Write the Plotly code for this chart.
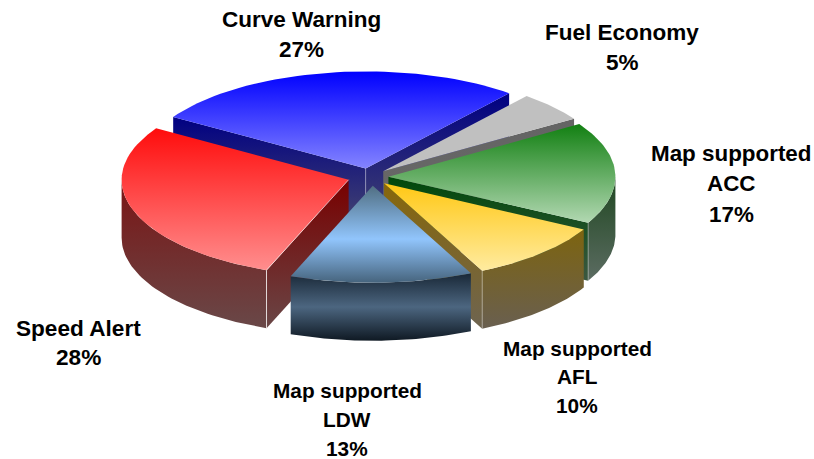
import math
import plotly.graph_objects as go

# Data
categories = ["Curve Warning", "Fuel Economy", "Map supported ACC", "Map supported AFL", "Map supported LDW", "Speed Alert"]
values = [27, 5, 17, 10, 13, 28]
label_lines = [["Curve Warning"], ["Fuel Economy"], ["Map supported", "ACC"], ["Map supported", "AFL"], ["Map supported", "LDW"], ["Speed Alert"]]

# Style
label_pos = [(301, 19, 30), (622, 32, 30), (731, 153, 30.5), (577, 348, 28.5), (347, 390, 29), (78, 328, 29)]
label_size = [22.5, 22.5, 22.4, 20.8, 20.8, 22.6]
nudge_x = [1, 0, 0, 2, 4, 0]
top_colors = [
    [(0, "rgb(0,0,255)"), (1, "rgb(132,132,255)")],
    [(0, "rgb(192,192,192)"), (1, "rgb(192,192,192)")],
    [(0, "rgb(18,128,18)"), (1, "rgb(178,216,178)")],
    [(0, "rgb(255,200,20)"), (1, "rgb(255,235,160)")],
    [(0, "rgb(80,110,130)"), (0.55, "rgb(145,197,252)"), (1, "rgb(70,100,125)")],
    [(0, "rgb(255,12,12)"), (1, "rgb(255,142,142)")],
]
cut_colors = [
    [(0, "rgb(0,0,130)"), (1, "rgb(70,70,112)")],
    [(0, "rgb(100,100,100)"), (1, "rgb(105,105,105)")],
    [(0, "rgb(0,72,10)"), (1, "rgb(60,88,65)")],
    [(0, "rgb(135,103,10)"), (1, "rgb(110,100,80)")],
    [(0, "rgb(25,40,55)"), (1, "rgb(15,25,35)")],
    [(0, "rgb(120,0,0)"), (1, "rgb(105,70,70)")],
]
rim_colors = [
    cut_colors[0], cut_colors[1],
    [(0, "rgb(30,70,32)"), (1, "rgb(92,108,98)")],
    [(0, "rgb(125,100,15)"), (1, "rgb(105,95,80)")],
    [(0, "rgb(25,40,55)"), (0.5, "rgb(76,102,128)"), (1, "rgb(15,25,35)")],
    [(0, "rgb(122,20,20)"), (1, "rgb(105,72,72)")],
]
draw_order = [0, 1, 2, 5, 3, 4]
CX, CY, RX, RY, DEPTH, EXPLODE, START = 368, 177, 227, 97, 58, 0.09, -58.0


def pt(cx, cy, a, r=1.0):
    t = math.radians(a)
    return cx + r * RX * math.sin(t), cy - r * RY * math.cos(t)


def arc(cx, cy, a0, a1, n=48):
    return [pt(cx, cy, a0 + (a1 - a0) * i / n) for i in range(n + 1)]


def poly(fig, pts, scale):
    xs = [p[0] for p in pts] + [pts[0][0]]
    ys = [p[1] for p in pts] + [pts[0][1]]
    fig.add_trace(go.Scatter(
        x=xs, y=ys, mode="lines", line=dict(width=0), fill="toself",
        fillgradient=dict(type="vertical", colorscale=scale, start=min(ys), stop=max(ys)),
        hoverinfo="skip", showlegend=False))


def edge(fig, p, q, color="rgba(255,255,255,0.75)", w=1):
    fig.add_trace(go.Scatter(x=[p[0], q[0]], y=[p[1], q[1]], mode="lines",
                             line=dict(color=color, width=w), hoverinfo="skip", showlegend=False))


total = sum(values)
spans = []
acc = START
for v in values:
    spans.append((acc, acc + 360 * v / total))
    acc += 360 * v / total

fig = go.Figure()
for i in draw_order:
    s, e = spans[i]
    mid = math.radians((s + e) / 2)
    cx = CX + EXPLODE * RX * math.sin(mid) + nudge_x[i]
    cy = CY - EXPLODE * RY * math.cos(mid)
    apex = (cx, cy)
    apex_d = (cx, cy + DEPTH)
    ps, pe = pt(cx, cy, s), pt(cx, cy, e)
    # cut faces facing the viewer
    if math.sin(math.radians(s)) < 0:
        poly(fig, [ps, apex, apex_d, (ps[0], ps[1] + DEPTH)], cut_colors[i])
    if math.sin(math.radians(e)) > 0:
        poly(fig, [pe, apex, apex_d, (pe[0], pe[1] + DEPTH)], cut_colors[i])
    # outer rim, lower half of the ellipse only
    lo = (max(s % 360, 90), min(e % 360 if e % 360 > s % 360 else e % 360 + 360, 270))
    if lo[1] > lo[0]:
        top = arc(cx, cy, lo[0], lo[1])
        poly(fig, top + [(x, y + DEPTH) for x, y in reversed(top)], rim_colors[i])
    # top face
    poly(fig, [apex] + arc(cx, cy, s, e), top_colors[i])
    # light corner edges
    if categories[i] == "Speed Alert":
        edge(fig, ps, (ps[0], ps[1] + DEPTH))
        edge(fig, ps, apex, w=0.8)
    if categories[i] == "Map supported AFL":
        edge(fig, pe, (pe[0], pe[1] + DEPTH), "rgba(255,255,255,0.35)")
    if categories[i] == "Map supported ACC":
        edge(fig, pe, (pe[0], pe[1] + DEPTH), "rgba(255,255,255,0.35)")
    if categories[i] == "Curve Warning":
        edge(fig, apex, apex_d, "rgba(255,255,255,0.3)")

annotations = []
for lines, v, (x, y, gap), size in zip(label_lines, values, label_pos, label_size):
    for k, t in enumerate(lines + [f"{v}%"]):
        annotations.append(dict(x=x, y=y + k * gap, text=t, showarrow=False, xref="x", yref="y",
                                xanchor="center", yanchor="middle",
                                font=dict(family="Liberation Sans", size=size, color="black", weight=700)))

fig.update_layout(
    width=814, height=459, margin=dict(l=0, r=0, t=0, b=0),
    paper_bgcolor="white", plot_bgcolor="white", showlegend=False,
    xaxis=dict(range=[0, 814], visible=False),
    yaxis=dict(range=[459, 0], visible=False),
    annotations=annotations,
)
fig.write_html("out.html", config={"displayModeBar": False},
               post_script="document.body.style.margin='0';document.body.style.overflow='hidden';")
